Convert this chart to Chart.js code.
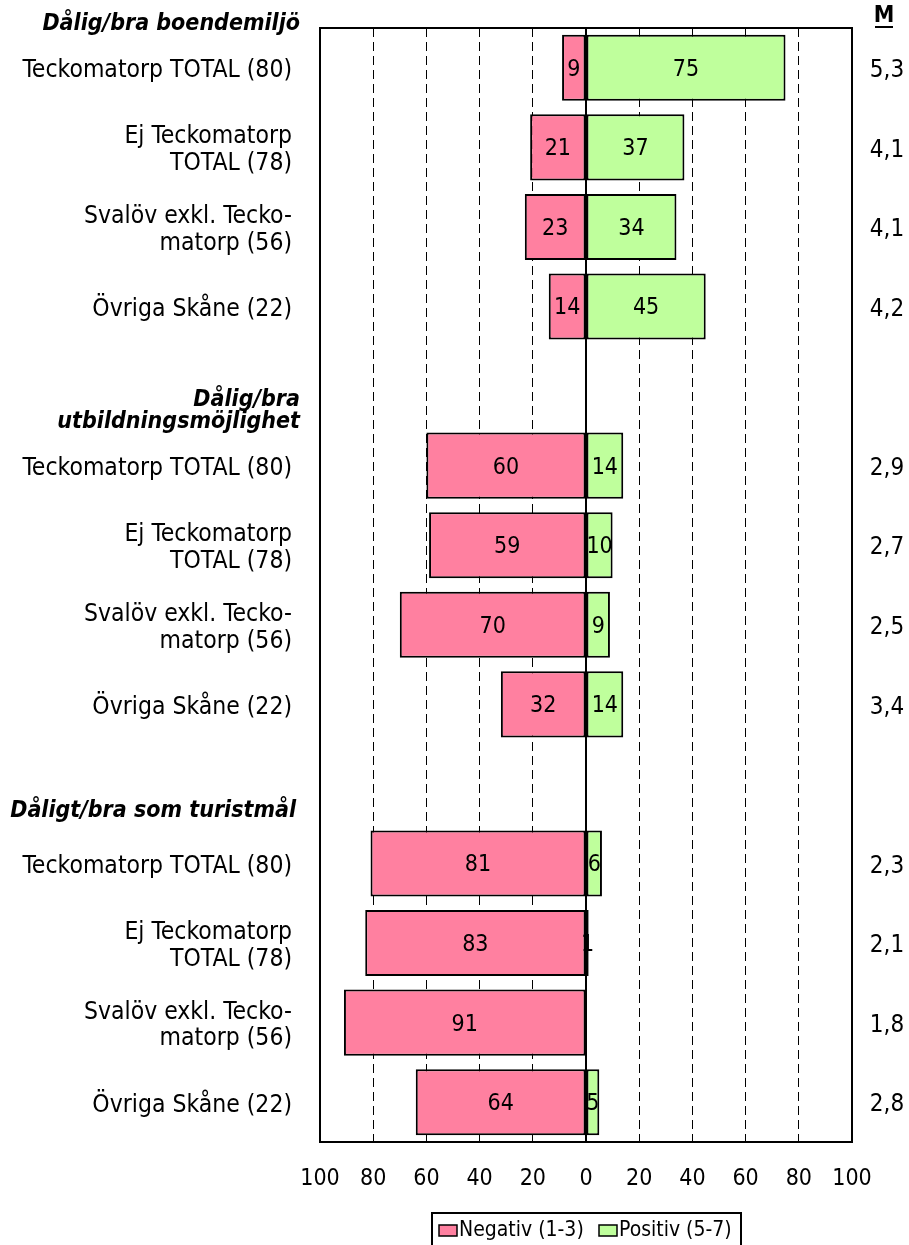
<!DOCTYPE html>
<html>
<head>
<meta charset="utf-8">
<script src="https://cdn.jsdelivr.net/npm/chart.js@4.4.1/dist/chart.umd.min.js"></script>
<style>
  html, body { margin: 0; padding: 0; background: #fff; }
  #chartId { display: block; }
</style>
</head>
<body>
<canvas id="chartId" width="909" height="1245"></canvas>
<script>
// rader (tomma platser = rubrikrader)
var categories = [
    "Teckomatorp TOTAL (80)", ["Ej Teckomatorp", "TOTAL (78)"], ["Svalöv exkl. Tecko-", "matorp (56)"], "Övriga Skåne (22)",
    "",
    "Teckomatorp TOTAL (80)", ["Ej Teckomatorp", "TOTAL (78)"], ["Svalöv exkl. Tecko-", "matorp (56)"], "Övriga Skåne (22)",
    "",
    "Teckomatorp TOTAL (80)", ["Ej Teckomatorp", "TOTAL (78)"], ["Svalöv exkl. Tecko-", "matorp (56)"], "Övriga Skåne (22)"
];
var headers = [["Dålig/bra boendemiljö"], ["Dålig/bra", "utbildningsmöjlighet"], ["Dåligt/bra som turistmål"]];
var headerSlots = [0, 4, 9];

var negativ = [9, 21, 23, 14, null, 60, 59, 70, 32, null, 81, 83, 91, 64];
var positiv = [75, 37, 34, 45, null, 14, 10, 9, 14, null, 6, 1, 0, 5];
var medel = ["5,3", "4,1", "4,1", "4,2", "", "2,9", "2,7", "2,5", "3,4", "", "2,3", "2,1", "1,8", "2,8"];
var xTicks = [-100, -80, -60, -40, -20, 0, 20, 40, 60, 80, 100];

var FONT = '"DejaVu Sans Condensed", "DejaVu Sans"';

var extras = {
    id: 'extras',
    afterDatasetsDraw: function (chart) {
        var ctx = chart.ctx;
        var a = chart.chartArea;
        var xs = chart.scales.x, ys = chart.scales.y;
        ctx.save();
        // värden i staplarna
        ctx.fillStyle = '#000';
        ctx.font = '23px ' + FONT;
        ctx.textAlign = 'center';
        ctx.textBaseline = 'middle';
        chart.data.datasets.forEach(function (ds, i) {
            chart.getDatasetMeta(i).data.forEach(function (bar, j) {
                var v = ds.data[j];
                if (v === null || v === 0) return;
                ctx.fillText(String(Math.abs(v)), (bar.x + bar.base) / 2, bar.y + 2);
            });
        });
        // nollinje
        var x0 = xs.getPixelForValue(0);
        ctx.strokeStyle = '#000';
        ctx.lineWidth = 2;
        ctx.beginPath();
        ctx.moveTo(x0, a.top);
        ctx.lineTo(x0, a.bottom);
        ctx.stroke();
        // ram
        ctx.strokeRect(a.left, a.top, a.right - a.left, a.bottom - a.top);
        // rubriker
        ctx.font = 'italic bold 23px ' + FONT;
        ctx.textAlign = 'right';
        var offs = [[-44], [14, 36], [27]];
        var rx = [300, 300, 296];
        headers.forEach(function (h, k) {
            var y = ys.getPixelForValue(headerSlots[k]);
            h.forEach(function (line, m) {
                ctx.fillText(line, rx[k], y + offs[k][m]);
            });
        });
        // medelvärden
        ctx.font = '24px ' + FONT;
        ctx.textAlign = 'center';
        medel.forEach(function (m, j) {
            if (m) ctx.fillText(m, 887, ys.getPixelForValue(j) + 3);
        });
        ctx.font = 'bold 23px ' + FONT;
        ctx.fillText("M", 884, 16);
        ctx.lineWidth = 2;
        ctx.beginPath();
        ctx.moveTo(875, 27);
        ctx.lineTo(893, 27);
        ctx.stroke();
        // legend
        ctx.lineWidth = 2;
        ctx.strokeRect(432, 1213, 309, 40);
        ctx.font = '21px ' + FONT;
        ctx.textAlign = 'left';
        var lx = [439, 599];
        chart.data.datasets.forEach(function (ds, i) {
            ctx.fillStyle = ds.backgroundColor;
            ctx.fillRect(lx[i], 1225, 18, 11);
            ctx.lineWidth = 1.5;
            ctx.strokeRect(lx[i], 1225, 18, 11);
            ctx.fillStyle = '#000';
            ctx.fillText(ds.label, lx[i] + 20, 1231);
        });
        ctx.restore();
    }
};

var chrt = document.getElementById("chartId").getContext("2d");
var chartId = new Chart(chrt, {
    type: 'bar',
    data: {
        labels: categories,
        datasets: [{
            label: "Negativ (1-3)",
            data: negativ.map(function (v) { return v === null ? null : -v; }),
            backgroundColor: '#FF80A0',
            borderColor: '#000',
            borderWidth: 2,
            borderSkipped: false,
            categoryPercentage: 1,
            barPercentage: 0.83
        }, {
            label: "Positiv (5-7)",
            data: positiv,
            backgroundColor: '#BFFF9C',
            borderColor: '#000',
            borderWidth: 2,
            borderSkipped: false,
            categoryPercentage: 1,
            barPercentage: 0.83
        }]
    },
    options: {
        indexAxis: 'y',
        responsive: false,
        animation: false,
        layout: { padding: { left: 0, right: 57, top: 28, bottom: 53 } },
        plugins: { legend: { display: false }, tooltip: { enabled: false } },
        scales: {
            x: {
                stacked: true,
                min: -100,
                max: 100,
                afterBuildTicks: function (scale) {
                    scale.ticks = xTicks.map(function (v) { return { value: v }; });
                },
                afterFit: function (scale) { scale.height = 50; },
                ticks: {
                    color: '#000',
                    font: { family: FONT, size: 23 },
                    padding: 23,
                    callback: function (v) { return Math.abs(v); }
                },
                grid: {
                    drawTicks: false,
                    color: function (c) {
                        var v = c.tick ? c.tick.value : 0;
                        return (v === 0 || Math.abs(v) === 100) ? 'rgba(0,0,0,0)' : '#000';
                    },
                    lineWidth: 1
                },
                border: { display: false, dash: [9, 5] }
            },
            y: {
                stacked: true,
                afterFit: function (scale) {
                    scale.width = 320;
                    scale.paddingTop = 0;
                    scale.paddingBottom = 0;
                },
                ticks: {
                    color: '#000',
                    font: { family: FONT, size: 24.5, lineHeight: 1.1 },
                    padding: 28,
                    labelOffset: 3,
                    autoSkip: false
                },
                grid: { display: false, drawTicks: false },
                border: { display: false }
            }
        }
    },
    plugins: [extras]
});
</script>
</body>
</html>
